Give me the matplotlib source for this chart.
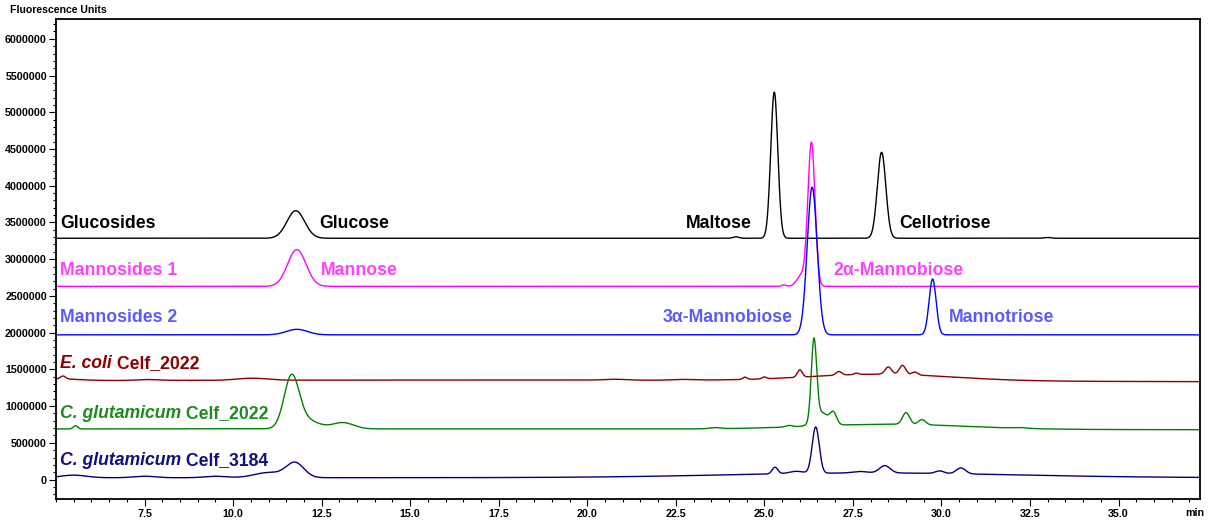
import numpy as np
import matplotlib
matplotlib.use("Agg")
import matplotlib.pyplot as plt
from matplotlib.ticker import MultipleLocator, FuncFormatter, FixedLocator

plt.rcParams["font.family"] = ["Liberation Sans", "DejaVu Sans"]
plt.rcParams["font.weight"] = "bold"

# ---------- data: baseline + peak tables (retention time [min], height, sigma [min]) ----------
# Glucosides (black)
gluc_base = 3285000
gluc_rt = [11.77, 24.2, 25.28, 28.31, 33.0]
gluc_h = [375000, 20000, 1990000, 1170000, 10000]
gluc_w = [0.25, 0.08, 0.10, 0.12, 0.10]

# Mannosides 1 (magenta)
man1_base = 2630000
man1_rt = [11.8, 25.55, 26.05, 26.33]
man1_h = [500000, 20000, 150000, 1950000]
man1_w = [0.26, 0.06, 0.13, 0.10]

# Mannosides 2 (blue)
man2_base = 1970000
man2_rt = [11.8, 26.35, 29.75]
man2_h = [75000, 2010000, 760000]
man2_w = [0.30, 0.14, 0.10]

# E. coli Celf_2022 (dark red)
ecoli_base = 1325000
ecoli_rt = [16.0, 28.3, 5.0, 5.2, 7.6, 10.3, 10.8, 20.8, 22.7, 24.45, 25.0, 26.0,
            27.1, 27.6, 28.5, 28.9, 29.25]
ecoli_h = [30000, 90000, 25000, 40000, 12000, 20000, 18000, 12000, 10000, 30000,
           25000, 100000, 50000, 20000, 100000, 125000, 40000]
ecoli_w = [13.0, 2.0, 0.6, 0.07, 0.3, 0.3, 0.3, 0.3, 0.3, 0.06, 0.06, 0.07,
           0.08, 0.06, 0.09, 0.09, 0.08]

# C. glutamicum Celf_2022 (green)
cg22_base = 675000
cg22_rt = [12.0, 28.5, 5.55, 11.65, 12.05, 13.1, 23.6, 25.7, 26.4, 26.6, 26.95,
           29.0, 29.45, 32.2]
cg22_h = [15000, 70000, 45000, 680000, 120000, 85000, 15000, 20000, 1090000,
          180000, 150000, 160000, 70000, 10000]
cg22_w = [15.0, 2.2, 0.06, 0.21, 0.35, 0.30, 0.15, 0.10, 0.075, 0.2, 0.09,
          0.10, 0.10, 0.2]

# C. glutamicum Celf_3184 (navy)
cg31_base = 25000
cg31_rt = [28.0, 5.5, 7.5, 9.5, 11.0, 11.75, 25.3, 25.9, 26.45, 27.7, 28.4,
           29.95, 30.55]
cg31_h = [65000, 35000, 20000, 20000, 70000, 200000, 90000, 30000, 630000,
          20000, 100000, 35000, 80000]
cg31_w = [4.0, 0.35, 0.3, 0.3, 0.4, 0.25, 0.08, 0.2, 0.10, 0.2, 0.15, 0.12, 0.13]

traces = [
    ("Glucosides", gluc_base, gluc_rt, gluc_h, gluc_w, "#000000"),
    ("Mannosides 1", man1_base, man1_rt, man1_h, man1_w, "#FF00FF"),
    ("Mannosides 2", man2_base, man2_rt, man2_h, man2_w, "#0000FF"),
    ("E. coli Celf_2022", ecoli_base, ecoli_rt, ecoli_h, ecoli_w, "#8B0000"),
    ("C. glutamicum Celf_2022", cg22_base, cg22_rt, cg22_h, cg22_w, "#008000"),
    ("C. glutamicum Celf_3184", cg31_base, cg31_rt, cg31_h, cg31_w, "#000080"),
]

T_MIN, T_MAX = 5.0, 37.3
t = np.linspace(T_MIN, T_MAX, 5000)


def chromatogram(base, rts, hs, ws):
    y = np.full_like(t, float(base))
    for rt, h, w in zip(rts, hs, ws):
        y += h * np.exp(-0.5 * ((t - rt) / w) ** 2)
    return y


# ---------- plot ----------
fig = plt.figure(figsize=(12.08, 5.22), dpi=100)
ax = fig.add_axes([56 / 1208, 1 - 499 / 522, (1200 - 56) / 1208, (499 - 19) / 522])

for name, base, rts, hs, ws, col in traces:
    ax.plot(t, chromatogram(base, rts, hs, ws), color=col, lw=1.0)

ax.set_xlim(T_MIN, T_MAX)
ax.set_ylim(-265000, 6270000)

ax.xaxis.set_major_locator(FixedLocator(np.arange(7.5, 35.1, 2.5)))
ax.xaxis.set_minor_locator(MultipleLocator(0.5))
ax.xaxis.set_major_formatter(FuncFormatter(lambda v, p: f"{v:.1f}"))
ax.yaxis.set_major_locator(FixedLocator(np.arange(0, 6000001, 500000)))
ax.yaxis.set_minor_locator(MultipleLocator(100000))
ax.yaxis.set_major_formatter(FuncFormatter(lambda v, p: f"{int(round(v))}"))

ax.tick_params(which="major", direction="out", length=5, width=0.8, labelsize=7.7, pad=1.5)
ax.tick_params(which="minor", direction="out", length=2.2, width=0.8)
ax.tick_params(axis="x", pad=2.5)
for lbl in ax.get_xticklabels() + ax.get_yticklabels():
    lbl.set_fontweight("bold")
for sp in ax.spines.values():
    sp.set_linewidth(1.3)

fig.text(10 / 1208, 1 - 10 / 522, "Fluorescence Units", fontsize=7.6,
         fontweight="bold", ha="left", va="center")
fig.text(1195 / 1208, 1 - 513 / 522, "min", fontsize=7.7,
         fontweight="bold", ha="center", va="center")

# ---------- labels ----------
FS = 12.7
lab_x = 5.11
renderer = fig.canvas.get_renderer()


def mixed_label(y, italic, rest, color):
    # italic species name followed by upright strain name on the same baseline
    t1 = ax.text(lab_x, y, italic, color=color, fontsize=FS, fontweight="bold",
                 fontstyle="italic", ha="left", va="baseline")
    x_end = t1.get_window_extent(renderer).x1
    x_data = ax.transData.inverted().transform((x_end, 0))[0]
    ax.text(x_data, y, rest, color=color, fontsize=FS, fontweight="bold",
            ha="left", va="baseline")


ax.text(lab_x, 3430000, "Glucosides", color="#000000", fontsize=FS, ha="left", va="baseline")
ax.text(12.44, 3430000, "Glucose", color="#000000", fontsize=FS, ha="left", va="baseline")
ax.text(22.77, 3430000, "Maltose", color="#000000", fontsize=FS, ha="left", va="baseline")
ax.text(28.81, 3430000, "Cellotriose", color="#000000", fontsize=FS, ha="left", va="baseline")

ax.text(lab_x, 2790000, "Mannosides 1", color="#FF40FF", fontsize=FS, ha="left", va="baseline")
ax.text(12.49, 2790000, "Mannose", color="#FF40FF", fontsize=FS, ha="left", va="baseline")
ax.text(26.94, 2790000, "2α-Mannobiose", color="#FF40FF", fontsize=FS, ha="left", va="baseline")

ax.text(lab_x, 2140000, "Mannosides 2", color="#5A5AFF", fontsize=FS, ha="left", va="baseline")
ax.text(22.13, 2140000, "3α-Mannobiose", color="#5A5AFF", fontsize=FS, ha="left", va="baseline")
ax.text(30.2, 2140000, "Mannotriose", color="#5A5AFF", fontsize=FS, ha="left", va="baseline")

mixed_label(1520000, "E. coli", " Celf_2022", "#8B0000")
mixed_label(840000, "C. glutamicum", " Celf_2022", "#1E8B1E")
mixed_label(195000, "C. glutamicum", " Celf_3184", "#10107F")

fig.savefig("out.png", dpi=100)
